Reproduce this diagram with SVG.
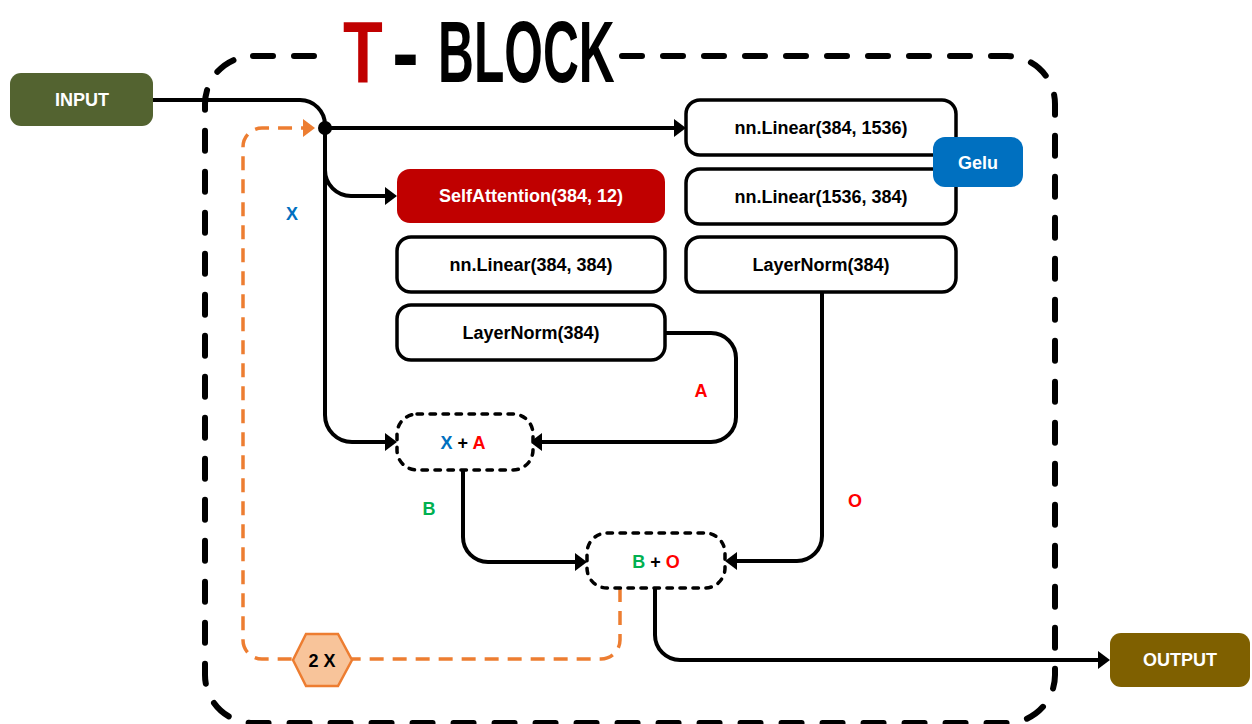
<svg xmlns="http://www.w3.org/2000/svg" width="1252" height="724" viewBox="0 0 1252 724">
<style>
.box{fill:#ffffff;stroke:#000;stroke-width:3.5}
.sum{fill:#ffffff;stroke:#000;stroke-width:3.5;stroke-dasharray:5.5 7.5;stroke-linecap:round}
.lbl{font-family:"Liberation Sans",Arial,sans-serif;font-weight:bold;font-size:18px;text-anchor:middle}
.w{fill:#ffffff}
.k{fill:#000000}
.con{fill:none;stroke:#000;stroke-width:4}
.org{fill:none;stroke:#ED7D31;stroke-width:3.5;stroke-dasharray:14 9}
.title{font-family:"Liberation Sans",Arial,sans-serif;font-weight:bold;font-size:88px}
</style>
<defs>
<marker id="ah" markerUnits="userSpaceOnUse" markerWidth="14" markerHeight="20" refX="8" refY="9" orient="auto">
<path d="M0,0 L12,9 L0,18 z" fill="#000"/>
</marker>
<marker id="aho" markerUnits="userSpaceOnUse" markerWidth="14" markerHeight="20" refX="8" refY="9" orient="auto">
<path d="M0,0 L12,9 L0,18 z" fill="#ED7D31"/>
</marker>
</defs>

<g id="frame">
<rect x="205" y="56" width="850" height="667" rx="48" fill="none" stroke="#000" stroke-width="6" stroke-dasharray="20 21" stroke-linecap="round"/>
<rect x="320" y="46" width="298" height="20" fill="#fff"/>
<text class="title" transform="translate(343,81.5) scale(0.74,1)" fill="#C00000">T</text>
<text class="title" transform="translate(392,81.5) scale(0.92,1)" fill="#000">-</text>
<text class="title" transform="translate(438,81.5) scale(0.565,1)" fill="#000">BLOCK</text>
</g>

<g id="connectors">
<path class="con" d="M153,100 H300 A25,25 0 0 1 325,125 V128"/>
<path class="con" d="M325,128 H682" marker-end="url(#ah)"/>
<path class="con" d="M325,170 A26,26 0 0 0 351,196 H393" marker-end="url(#ah)"/>
<path class="con" d="M325,128 V415 A27,27 0 0 0 352,442 H393" marker-end="url(#ah)"/>
<path class="con" d="M665,333 H711 A25,25 0 0 1 736,358 V417 A25,25 0 0 1 711,442 H534" marker-end="url(#ah)"/>
<path class="con" d="M463,470 V537 A25,25 0 0 0 488,562 H583" marker-end="url(#ah)"/>
<path class="con" d="M822,292 V536 A25,25 0 0 1 797,561 H729" marker-end="url(#ah)"/>
<path class="con" d="M655,588 V635 A25,25 0 0 0 680,660 H1106" marker-end="url(#ah)"/>
<path class="org" d="M620,588 V640 A19,19 0 0 1 601,659 H262 A19,19 0 0 1 243,640 V147 A19,19 0 0 1 262,128 H311" marker-end="url(#aho)"/>
<circle cx="325" cy="128" r="7" fill="#000"/>
<text class="lbl" x="292" y="220" fill="#0070C0">X</text>
<text class="lbl" x="701" y="397" fill="#FF0000">A</text>
<text class="lbl" x="429" y="515" fill="#00B050">B</text>
<text class="lbl" x="855" y="507" fill="#FF0000">O</text>
</g>

<g id="input">
<rect x="10" y="73" width="143" height="53" rx="11" fill="#536330"/>
<text class="lbl w" x="82" y="106">INPUT</text>
</g>

<g id="output">
<rect x="1110" y="633" width="140" height="54" rx="11" fill="#7F6000"/>
<text class="lbl w" x="1180" y="666">OUTPUT</text>
</g>

<g id="selfattention">
<rect x="397" y="169" width="268" height="54" rx="13" fill="#C00000"/>
<text class="lbl w" x="531" y="202" font-size="19">SelfAttention(384, 12)</text>
</g>

<g id="linear-384-384">
<rect class="box" x="397" y="237" width="268" height="55" rx="14"/>
<text class="lbl k" x="531" y="271" font-size="19">nn.Linear(384, 384)</text>
</g>

<g id="layernorm-a">
<rect class="box" x="397" y="305" width="268" height="55" rx="14"/>
<text class="lbl k" x="531" y="339" font-size="19">LayerNorm(384)</text>
</g>

<g id="linear-384-1536">
<rect class="box" x="686" y="100" width="270" height="55" rx="14"/>
<text class="lbl k" x="821" y="134" font-size="19">nn.Linear(384, 1536)</text>
</g>

<g id="linear-1536-384">
<rect class="box" x="686" y="169" width="270" height="55" rx="14"/>
<text class="lbl k" x="821" y="203" font-size="19">nn.Linear(1536, 384)</text>
</g>

<g id="layernorm-o">
<rect class="box" x="686" y="237" width="270" height="55" rx="14"/>
<text class="lbl k" x="821" y="271" font-size="19">LayerNorm(384)</text>
</g>

<g id="gelu">
<rect x="933" y="137" width="90" height="50" rx="12" fill="#0070C0"/>
<text class="lbl w" x="978" y="169" font-size="19">Gelu</text>
</g>

<g id="sum-xa">
<rect class="sum" x="397" y="414" width="136" height="56" rx="20"/>
<text class="lbl" x="463" y="449"><tspan fill="#0070C0">X</tspan><tspan fill="#000"> + </tspan><tspan fill="#FF0000">A</tspan></text>
</g>

<g id="sum-bo">
<rect class="sum" x="587" y="533" width="138" height="55" rx="20"/>
<text class="lbl" x="656" y="568"><tspan fill="#00B050">B</tspan><tspan fill="#000"> + </tspan><tspan fill="#FF0000">O</tspan></text>
</g>

<g id="repeat">
<polygon points="293,660 306,634 338,634 352,660 338,686 306,686" fill="#F8C49A" stroke="#ED7D31" stroke-width="2.5"/>
<text class="lbl k" x="322" y="667">2 X</text>
</g>
</svg>
